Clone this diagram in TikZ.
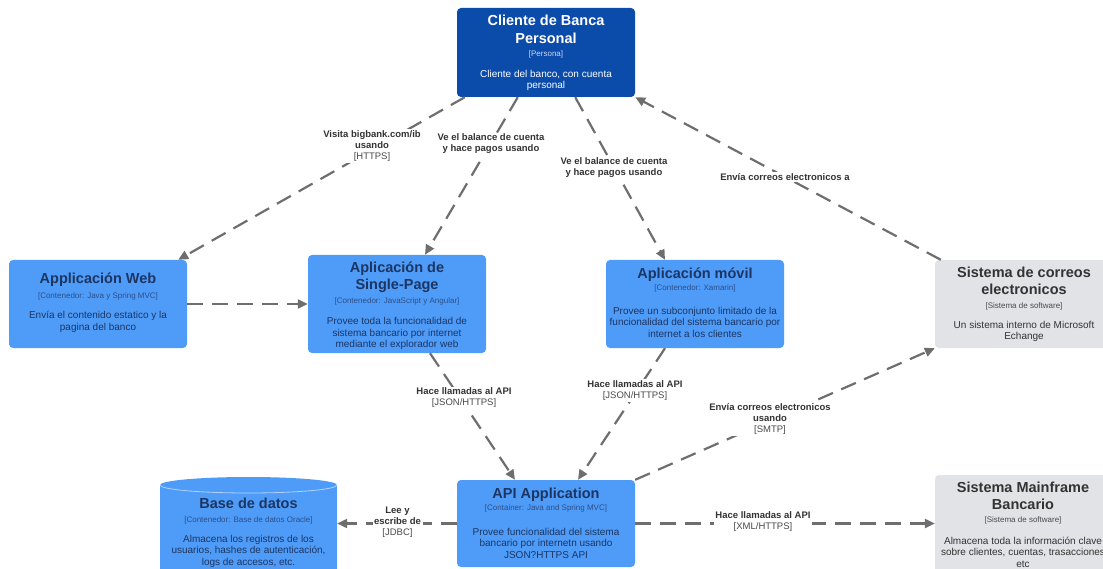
\documentclass[tikz,border=0pt]{standalone}
\usepackage{fontspec}
\setmainfont{Liberation Sans}
\usetikzlibrary{arrows.meta}

\definecolor{personblue}{HTML}{0B4BAA}
\definecolor{contblue}{HTML}{4E9CF8}
\definecolor{extgray}{HTML}{E1E3E6}
\definecolor{linegray}{HTML}{6E6E6E}
\definecolor{conttext}{HTML}{1D3562}
\definecolor{conttag}{HTML}{2D4F8A}
\definecolor{exttext}{HTML}{333333}
\definecolor{exttag}{HTML}{4A4A4A}
\definecolor{lbltext}{HTML}{333333}
\definecolor{lbltech}{HTML}{4A4A4A}
\definecolor{persontag}{HTML}{C9D8F5}

\begin{document}
\begin{tikzpicture}[x=1pt,y=-1pt,
  boxbase/.style={rectangle, rounded corners=4pt, minimum width=178pt, inner sep=0pt},
  personbox/.style={boxbase, fill=personblue},
  contbox/.style={boxbase, fill=contblue},
  extbox/.style={boxbase, fill=extgray},
  ttl/.style={font=\fontsize{14.5}{17.5}\selectfont\bfseries, align=center, inner sep=0pt},
  tagtxt/.style={font=\fontsize{8}{9.5}\selectfont, align=center, inner sep=0pt},
  dsc/.style={font=\fontsize{10}{11.5}\selectfont, align=center, inner sep=0pt},
  onperson/.style={text=white},
  oncont/.style={text=conttext},
  onext/.style={text=exttext},
  rel/.style={draw=linegray, line width=2.2pt, dash pattern=on 16pt off 9pt,
              -{Triangle[length=10pt,width=9pt]}},
  lbl/.style={font=\fontsize{9.5}{11}\selectfont\bfseries, align=center,
              fill=white, inner sep=1.5pt, text=lbltext},
  tech/.style={}
]
\useasboundingbox (0,0) rectangle (1103,569);
\clip (0,0) rectangle (1103,569);

% ---------- boxes ----------
\node[personbox, minimum height=89pt] (cli) at (546,52.5) {};
\node[contbox, minimum height=88pt] (web) at (98,304) {};
\node[contbox, minimum height=98pt] (spa) at (397,304) {};
\node[contbox, minimum height=88pt] (mob) at (695,304) {};
\node[extbox, minimum height=88pt] (cor) at (1024,304) {};
\node[contbox, minimum height=87pt] (api) at (546,523.5) {};
\node[extbox, minimum height=104pt] (main) at (1024,527) {};

% database cylinder
\fill[contblue] (160,485) -- (160,580) -- (337,580) -- (337,485) -- cycle;
\fill[contblue] (248.5,485) ellipse [x radius=88.5pt, y radius=8pt];
\draw[white!55!contblue, line width=0.8pt] (160,485) arc[start angle=180, end angle=360, x radius=88.5pt, y radius=8pt];
\node[minimum width=177pt, minimum height=90pt, inner sep=0pt] (db) at (248.5,530) {};

% ---------- connectors ----------
\draw[rel] ([xshift=8pt]cli.south west) -- ([xshift=-9pt]web.north east);
\draw[rel] ([xshift=61pt]cli.south west) -- ([xshift=28pt]spa.north);
\draw[rel] ([xshift=-60pt]cli.south east) -- ([xshift=-30pt]mob.north);
\draw[rel] ([xshift=6pt]cor.north west) -- (cli.south east);
\draw[rel] (web.east) -- (spa.west);
\draw[rel] ([xshift=33pt]spa.south) -- ([xshift=-31pt]api.north);
\draw[rel] ([xshift=-30pt]mob.south) -- ([xshift=32pt]api.north);
\draw[rel] (api.north east) -- (cor.south west);
\draw[rel] (api.west) -- (db.east |- api.west);
\draw[rel] (api.east) -- (main.west |- api.east);

% ---------- connector labels ----------
\node[lbl] (l1) at (372,146) {Visita bigbank.com/ib\\usando\\{\mdseries\color{lbltech}[HTTPS]}};
\node[lbl] (l2) at (491,144) {Ve el balance de cuenta\\y hace pagos usando};
\node[lbl] (l3) at (614,168) {Ve el balance de cuenta\\y hace pagos usando};
\node[lbl] (l4) at (785,177) {Envía correos electronicos a};
\node[lbl] (l6) at (464,398) {Hace llamadas al API\\{\mdseries\color{lbltech}[JSON/HTTPS]}};
\node[lbl] (l7) at (635,390.5) {Hace llamadas al API\\{\mdseries\color{lbltech}[JSON/HTTPS]}};
\node[lbl] (l8) at (770,419) {Envía correos electronicos\\usando\\{\mdseries\color{lbltech}[SMTP]}};
\node[lbl] (l9) at (397.5,522.5) {Lee y\\escribe de\\{\mdseries\color{lbltech}[JDBC]}};
\node[lbl] (l10) at (763,521.5) {Hace llamadas al API\\{\mdseries\color{lbltech}[XML/HTTPS]}};

% ---------- box texts ----------
% Cliente de Banca Personal
\node[ttl, onperson] (cliT) at (546,29.5) {Cliente de Banca\\Personal};
\node[tagtxt, text=persontag] (cliS) at (546,54) {[Persona]};
\node[dsc, onperson] (cliD) at (546,80.5) {Cliente del banco, con cuenta\\personal};

% Applicación Web
\node[ttl, oncont] (webT) at (98,280) {Applicación Web};
\node[tagtxt, text=conttag] (webS) at (98,296) {[Contenedor: Java y Spring MVC]};
\node[dsc, oncont] (webD) at (98,322) {Envía el contenido estatico y la\\pagina del banco};

% Aplicación de Single-Page
\node[ttl, oncont] (spaT) at (397,277) {Aplicación de\\Single-Page};
\node[tagtxt, text=conttag] (spaS) at (397,301.5) {[Contenedor: JavaScript y Angular]};
\node[dsc, oncont] (spaD) at (397,333.5) {Provee toda la funcionalidad de\\sistema bancario por internet\\mediante el explorador web};

% Aplicación móvil
\node[ttl, oncont] (mobT) at (695,275) {Aplicación móvil};
\node[tagtxt, text=conttag] (mobS) at (695,288.5) {[Contenedor: Xamarin]};
\node[dsc, oncont] (mobD) at (695,322) {Provee un subconjunto limitado de la\\funcionalidad del sistema bancario por\\internet a los clientes};

% Sistema de correos electronicos
\node[ttl, onext] (corT) at (1024,281) {Sistema de correos\\electronicos};
\node[tagtxt, text=exttag] (corS) at (1024,306.5) {[Sistema de software]};
\node[dsc, onext] (corD) at (1024,331.5) {Un sistema interno de Microsoft\\Echange};

% Base de datos
\node[ttl, oncont] (dbT) at (248.5,503.3) {Base de datos};
\node[tagtxt, text=conttag] (dbS) at (248.5,520) {[Contenedor: Base de datos Oracle]};
\node[dsc, oncont] (dbD) at (248.5,551) {Almacena los registros de los\\usuarios, hashes de autenticación,\\logs de accesos, etc.};

% API Application
\node[ttl, oncont] (apiT) at (546,495) {API Application};
\node[tagtxt, text=conttag] (apiS) at (546,508.5) {[Container: Java and Spring MVC]};
\node[dsc, oncont] (apiD) at (546,543.3) {Provee funcionalidad del sistema\\bancario por internetn usando\\JSON?HTTPS API};

% Sistema Mainframe Bancario
\node[ttl, onext] (mainT) at (1023,496) {Sistema Mainframe\\Bancario};
\node[tagtxt, text=exttag] (mainS) at (1023,520) {[Sistema de software]};
\node[dsc, onext] (mainD) at (1023,552) {Almacena toda la información clave\\sobre clientes, cuentas, trasacciones\\etc};

\end{tikzpicture}
\end{document}
